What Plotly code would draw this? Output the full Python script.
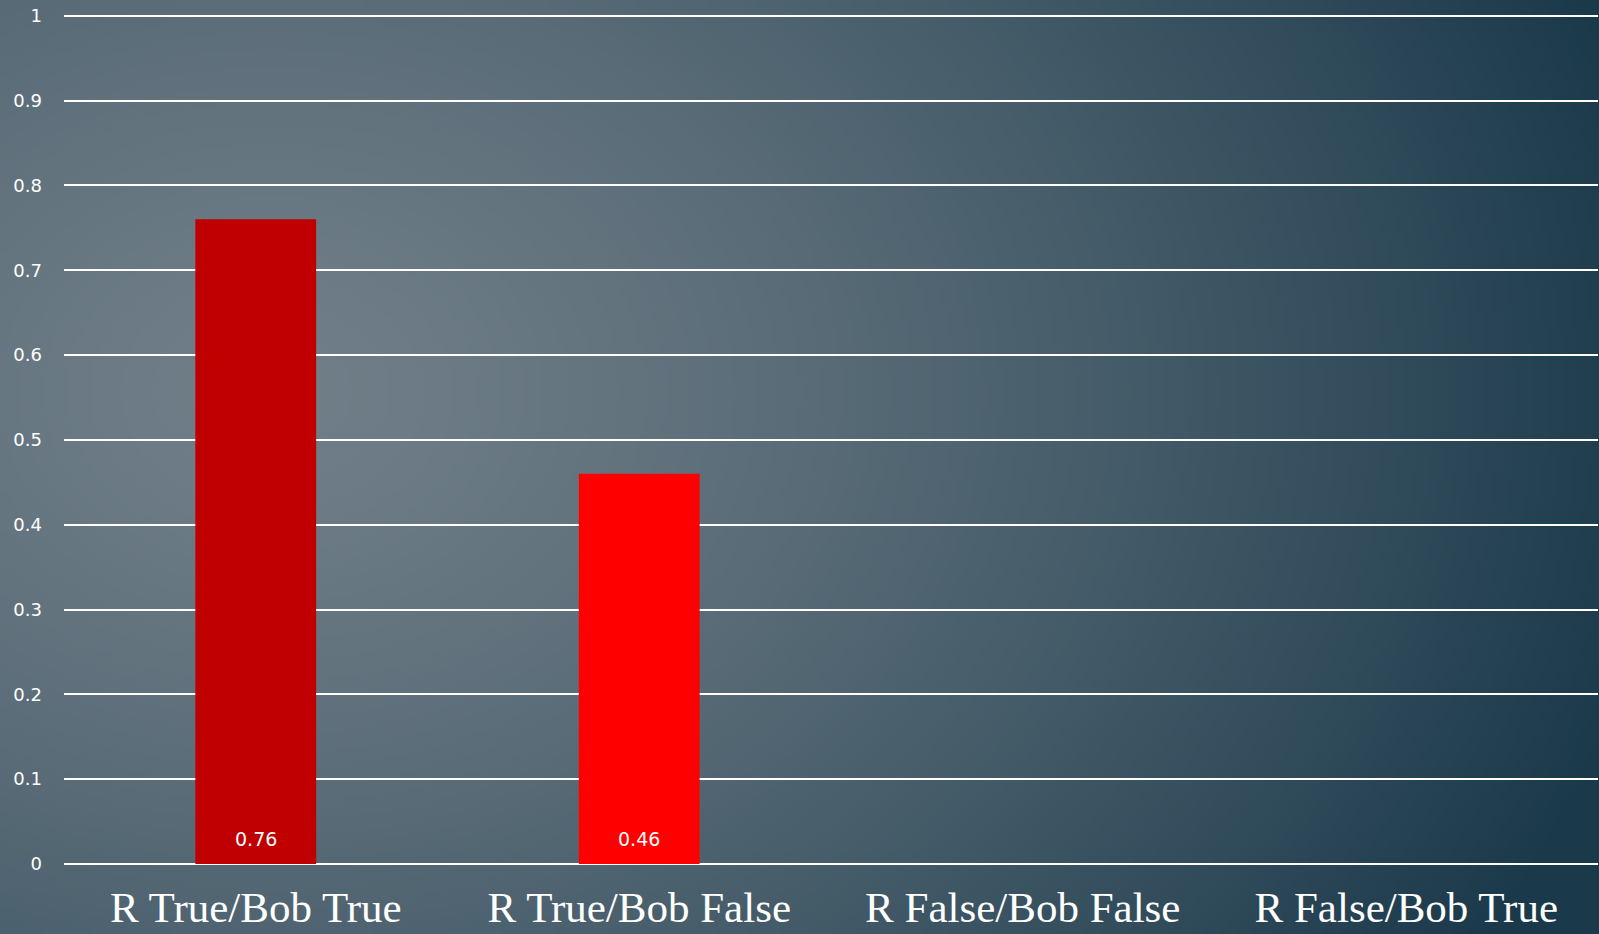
import base64
import math
import struct
import zlib

import plotly.graph_objects as go

# ---- data ----
categories = ["R True/Bob True", "R True/Bob False", "R False/Bob False", "R False/Bob True"]
values = [0.76, 0.46, None, None]
value_labels = ["0.76", "0.46", "", ""]
bar_colors = ["#C00000", "#FF0000", "#FF0000", "#FF0000"]
y_ticks = [0, 0.1, 0.2, 0.3, 0.4, 0.5, 0.6, 0.7, 0.8, 0.9, 1]
y_tick_labels = ["0", "0.1", "0.2", "0.3", "0.4", "0.5", "0.6", "0.7", "0.8", "0.9", "1"]

W, H = 1599, 934
ML, MR, MT, MB = 64, 1, 14, 70


# ---- background gradient as a small PNG ----
def make_png(w, h):
    c_in = (112, 126, 136)
    c_out = (26, 57, 74)
    cx, cy = 0.17, 0.42
    rows = []
    for j in range(h):
        row = bytearray([0])
        fy = (j + 0.5) / h
        for i in range(w):
            fx = (i + 0.5) / w
            dx = (fx - cx) * 1.0
            dy = (fy - cy) * 0.75
            d = math.sqrt(dx * dx + dy * dy)
            t = min(1.0, d / 0.88)
            t = t ** 1.35
            px = [int(round(a + (b - a) * t)) for a, b in zip(c_in, c_out)]
            row.extend(px)
        rows.append(bytes(row))
    raw = b"".join(rows)

    def chunk(tag, data):
        c = struct.pack(">I", len(data)) + tag + data
        return c + struct.pack(">I", zlib.crc32(tag + data) & 0xFFFFFFFF)

    png = b"\x89PNG\r\n\x1a\n"
    png += chunk(b"IHDR", struct.pack(">IIBBBBB", w, h, 8, 2, 0, 0, 0))
    png += chunk(b"IDAT", zlib.compress(raw, 9))
    png += chunk(b"IEND", b"")
    return "data:image/png;base64," + base64.b64encode(png).decode()


bg = make_png(320, 187)

pw = W - ML - MR
ph = H - MT - MB

fig = go.Figure()
fig.add_trace(go.Bar(
    x=categories,
    y=values,
    marker=dict(color=bar_colors, line=dict(width=0)),
    hoverinfo="skip",
))

# value labels sitting near the base of each bar
annotations = []
for cat, val, lab in zip(categories, values, value_labels):
    if val is None or not lab:
        continue
    annotations.append(dict(
        x=cat, y=0, xref="x", yref="y",
        text=lab, showarrow=False,
        yanchor="bottom", xanchor="center", yshift=12,
        font=dict(color="white", size=19, family="DejaVu Sans, sans-serif"),
    ))

fig.update_layout(
    width=W,
    height=H,
    margin=dict(l=ML, r=MR, t=MT, b=MB, pad=0, autoexpand=False),
    paper_bgcolor="#3a5060",
    plot_bgcolor="rgba(0,0,0,0)",
    showlegend=False,
    bargap=0.685,
    annotations=annotations,
    images=[dict(
        source=bg,
        xref="paper", yref="paper",
        x=-ML / pw, y=1 + MT / ph,
        sizex=W / pw, sizey=H / ph,
        xanchor="left", yanchor="top",
        sizing="stretch",
        layer="below",
    )],
    xaxis=dict(
        automargin=False,
        showgrid=False,
        showline=False,
        zeroline=False,
        ticks="",
        tickfont=dict(family="Liberation Serif, serif", size=43, color="white"),
        ticklabelstandoff=14,
    ),
    yaxis=dict(
        automargin=False,
        range=[0, 1.002],
        tickvals=y_ticks,
        ticktext=y_tick_labels,
        showgrid=True,
        gridcolor="white",
        gridwidth=2,
        zeroline=True,
        zerolinecolor="white",
        zerolinewidth=2,
        showline=False,
        ticks="",
        tickfont=dict(family="DejaVu Sans, sans-serif", size=18, color="white"),
        ticklabelstandoff=21,
    ),
)

fig.write_html(
    "out.html",
    config={"displayModeBar": False},
    post_script="document.body.style.margin='0';document.body.style.overflow='hidden';",
)
